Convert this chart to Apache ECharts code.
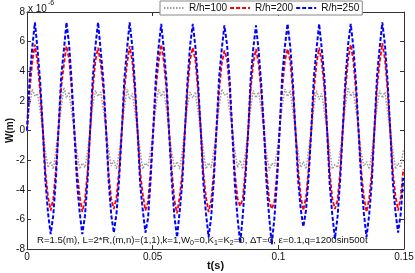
<!DOCTYPE html>
<html>
<head>
<meta charset="utf-8">
<script src="https://cdn.jsdelivr.net/npm/echarts@6/dist/echarts.min.js"></script>
<style>
  html, body { margin: 0; padding: 0; background: #fff; }
  #chart { width: 415px; height: 273px; }
</style>
</head>
<body>
<div id="chart"></div>
<script>
// sampling step of the curves (12 samples per load period 2*pi/500 s)
const dt = 0.0010472;

const seriesNames = ['R/h=100', 'R/h=200', 'R/h=250'];
const xTicks = [0, 0.05, 0.1, 0.15];
const yTicks = [-8, -6, -4, -2, 0, 2, 4, 6, 8];

// W(m) x 1e-6
const w100 = [
  0, 1.7, 2.8, 2.3, 2.5, 1.3, 0, -1.4, -2.5, -2.1, -2.6, -1.3,
  0.1, 1.6, 2.9, 2.2, 2.6, 1.2, -0.1, -1.5, -2.6, -2.2, -2.5, -1.4,
  0, 1.7, 2.7, 2.3, 2.6, 1.4, 0.1, -1.3, -2.4, -2.0, -2.6, -1.5,
  0.1, 1.5, 2.8, 2.1, 2.5, 1.3, 0, -1.4, -2.6, -2.2, -2.4, -1.3,
  0, 1.6, 2.8, 2.3, 2.7, 1.4, -0.1, -1.5, -2.5, -2.1, -2.6, -1.4,
  0.1, 1.7, 2.6, 2.2, 2.6, 1.2, 0, -1.3, -2.6, -2.2, -2.5, -1.3,
  0, 1.6, 2.8, 2.4, 2.5, 1.3, 0.1, -1.4, -2.5, -2.0, -2.6, -1.5,
  -0.1, 1.5, 2.7, 2.2, 2.6, 1.4, 0, -1.5, -2.7, -2.2, -2.4, -1.4,
  0.1, 1.7, 2.8, 2.3, 2.7, 1.3, -0.1, -1.4, -2.5, -2.1, -2.6, -1.3,
  0, 1.6, 2.7, 2.1, 2.5, 1.2, 0.1, -1.3, -2.6, -2.3, -2.5, -1.4,
  0.1, 1.7, 2.9, 2.3, 2.6, 1.4, 0, -1.5, -2.4, -2.1, -2.6, -1.5,
  0, 1.6, 2.7, 2.2, 2.6, 1.3, -0.1, -1.4, -2.6, -2.2, -2.5, -1.3
];
const w200 = [
  0, 2.7, 4.6, 5.8, 4.6, 2.6, 0.1, -2.8, -4.5, -5.4, -4.6, -2.6,
  0.1, 2.9, 4.4, 5.7, 4.8, 2.7, 0, -2.7, -4.4, -5.5, -4.7, -2.8,
  0, 2.8, 4.7, 5.6, 4.5, 2.8, 0.1, -2.9, -4.6, -5.3, -4.5, -2.7,
  -0.1, 2.7, 4.5, 5.7, 4.7, 2.6, 0, -2.8, -4.3, -5.4, -4.8, -2.6,
  0.1, 2.9, 4.6, 5.8, 4.6, 2.7, -0.1, -2.7, -4.7, -5.6, -4.5, -2.8,
  0, 2.8, 4.8, 5.6, 4.7, 2.6, 0.1, -2.8, -4.5, -5.5, -4.7, -2.7,
  0.1, 2.7, 4.5, 5.4, 4.8, 2.8, 0, -2.9, -4.6, -5.1, -4.6, -2.6,
  -0.1, 2.8, 4.6, 5.5, 4.5, 2.6, 0.1, -2.7, -4.7, -5.3, -4.8, -2.8,
  0.1, 2.9, 4.7, 5.5, 4.7, 2.7, 0, -2.6, -4.4, -5.4, -4.5, -2.6,
  0, 2.7, 4.5, 5.6, 4.6, 2.8, 0.1, -2.8, -4.6, -5.3, -4.7, -2.7,
  0.1, 2.8, 4.8, 5.8, 4.7, 2.6, -0.1, -2.7, -4.5, -5.5, -4.6, -2.8,
  0, 2.9, 4.6, 5.9, 4.8, 2.7, 0.1, -2.8, -4.4, -5.4, -4.5, -2.6
];
const w250 = [
  0, 3.5, 5.6, 7.3, 5.5, 3.3, 0.1, -3.4, -5.6, -7.0, -5.7, -3.2,
  0.2, 3.7, 5.4, 7.3, 5.8, 3.2, -0.1, -3.5, -5.5, -7.0, -5.8, -3.4,
  0.1, 3.6, 5.7, 7.3, 5.4, 3.4, 0.2, -3.3, -5.7, -6.9, -5.6, -3.3,
  -0.1, 3.5, 5.5, 7.3, 5.7, 3.1, 0, -3.6, -5.4, -6.9, -5.9, -3.2,
  0.2, 3.7, 5.6, 7.2, 5.5, 3.3, -0.2, -3.4, -5.8, -7.2, -5.5, -3.5,
  0, 3.4, 5.8, 7.2, 5.6, 3.2, 0.1, -3.5, -5.6, -7.2, -5.8, -3.3,
  0.1, 3.6, 5.5, 7.1, 5.8, 3.4, -0.1, -3.7, -5.9, -7.6, -5.7, -3.2,
  -0.2, 3.5, 5.6, 7.1, 5.4, 3.1, 0.2, -3.5, -5.8, -7.7, -5.9, -3.4,
  0.1, 3.8, 5.7, 7.2, 5.7, 3.3, 0, -3.3, -5.3, -6.5, -5.4, -3.1,
  0, 3.6, 5.5, 7.2, 5.5, 3.5, 0.1, -3.6, -5.7, -7.3, -5.8, -3.3,
  0.2, 3.5, 5.8, 7.2, 5.6, 3.2, -0.1, -3.4, -5.6, -7.2, -5.7, -3.5,
  0.1, 3.7, 5.6, 7.3, 5.8, 3.3, 0.1, -3.5, -5.5, -6.9, -5.6, -3.2
];

const toPairs = (arr) => arr.map((v, i) => [i * dt, v]);

const font = 'Liberation Sans, Arial, sans-serif';
const axisColor = '#333';

let chart = echarts.init(document.getElementById('chart'), null, { renderer: 'canvas' });

let option = {
  animation: false,
  backgroundColor: '#fff',
  textStyle: { fontFamily: font },
  grid: { left: 27, right: 11, top: 12, bottom: 24, containLabel: false, outerBoundsMode: 'none' },
  legend: {
    data: seriesNames,
    left: 160,
    top: 1,
    itemWidth: 20,
    itemHeight: 8,
    itemGap: 2,
    padding: [2, 3, 2, 3],
    backgroundColor: '#fff',
    borderColor: '#888',
    borderWidth: 1,
    borderRadius: 0,
    itemStyle: { opacity: 0 },
    textStyle: { fontSize: 10, color: '#111', fontFamily: font }
  },
  xAxis: [
    {
      type: 'value',
      min: 0, max: 0.15, interval: 0.05,
      name: 't(s)',
      nameLocation: 'middle',
      nameGap: 11,
      nameMoveOverlap: false,
      nameTextStyle: { fontSize: 11, fontWeight: 'bold', color: '#111' },
      axisLine: { onZero: false, lineStyle: { color: axisColor } },
      axisTick: { inside: true, length: 4, lineStyle: { color: axisColor } },
      axisLabel: {
        fontSize: 10, color: '#111', margin: 3,
        formatter: (v) => (xTicks.includes(+v.toFixed(2)) ? String(+v.toFixed(2)) : '')
      },
      splitLine: { show: false }
    },
    {
      type: 'value', position: 'top',
      min: 0, max: 0.15, interval: 0.05,
      axisLine: { onZero: false, lineStyle: { color: axisColor } },
      axisTick: { inside: true, length: 4, lineStyle: { color: axisColor } },
      axisLabel: { show: false },
      splitLine: { show: false }
    }
  ],
  yAxis: [
    {
      type: 'value',
      min: -8, max: 8, interval: 2,
      name: 'W(m)',
      nameLocation: 'middle',
      nameGap: 12,
      nameMoveOverlap: false,
      nameTextStyle: { fontSize: 10, fontWeight: 'bold', color: '#111' },
      axisLine: { onZero: false, lineStyle: { color: axisColor } },
      axisTick: { inside: true, length: 4, lineStyle: { color: axisColor } },
      axisLabel: {
        fontSize: 10, color: '#111', margin: 2,
        formatter: (v) => (yTicks.includes(v) ? String(v) : '')
      },
      splitLine: { show: false }
    },
    {
      type: 'value', position: 'right',
      min: -8, max: 8, interval: 2,
      axisLine: { show: true, onZero: false, lineStyle: { color: axisColor } },
      axisTick: { show: true, inside: true, length: 4, lineStyle: { color: axisColor } },
      axisLabel: { show: false },
      splitLine: { show: false }
    }
  ],
  graphic: [
    {
      type: 'text',
      left: 28, top: 0,
      style: {
        text: '{a|x 10}{b|-6}',
        rich: {
          a: { fontSize: 10, fontFamily: font, fill: '#111' },
          b: { fontSize: 7, fontFamily: font, fill: '#111', padding: [0, 0, 11, 1] }
        }
      }
    },
    {
      type: 'text',
      left: 37, top: 235,
      z: 10,
      style: {
        text: '{a|R=1.5(m), L=2*R,(m,n)=(1,1),k=1,W}{s|0}{a|=0,K}{s|1}{a|=K}{s|2}{a|=0, ΔT=0, ε=0.1,q=1200sin500t}',
        rich: {
          a: { fontSize: 9.6, fontFamily: font, fill: '#111' },
          s: { fontSize: 7, fontFamily: font, fill: '#111', padding: [6, 0, 0, 0] }
        }
      }
    }
  ],
  series: [
    {
      name: seriesNames[0], type: 'line', data: toPairs(w100),
      showSymbol: false, symbol: 'none',
      lineStyle: { color: '#9a9a9a', width: 1.5, type: [1.5, 1.5] },
      itemStyle: { color: '#9a9a9a' }
    },
    {
      name: seriesNames[1], type: 'line', data: toPairs(w200),
      showSymbol: false, symbol: 'none',
      lineStyle: { color: '#ff0000', width: 1.8, type: [4, 2] },
      itemStyle: { color: '#ff0000' }
    },
    {
      name: seriesNames[2], type: 'line', data: toPairs(w250),
      showSymbol: false, symbol: 'none',
      lineStyle: { color: '#0000ff', width: 2, type: [4, 2] },
      itemStyle: { color: '#0000ff' }
    }
  ]
};

chart.setOption(option);
</script>
</body>
</html>
